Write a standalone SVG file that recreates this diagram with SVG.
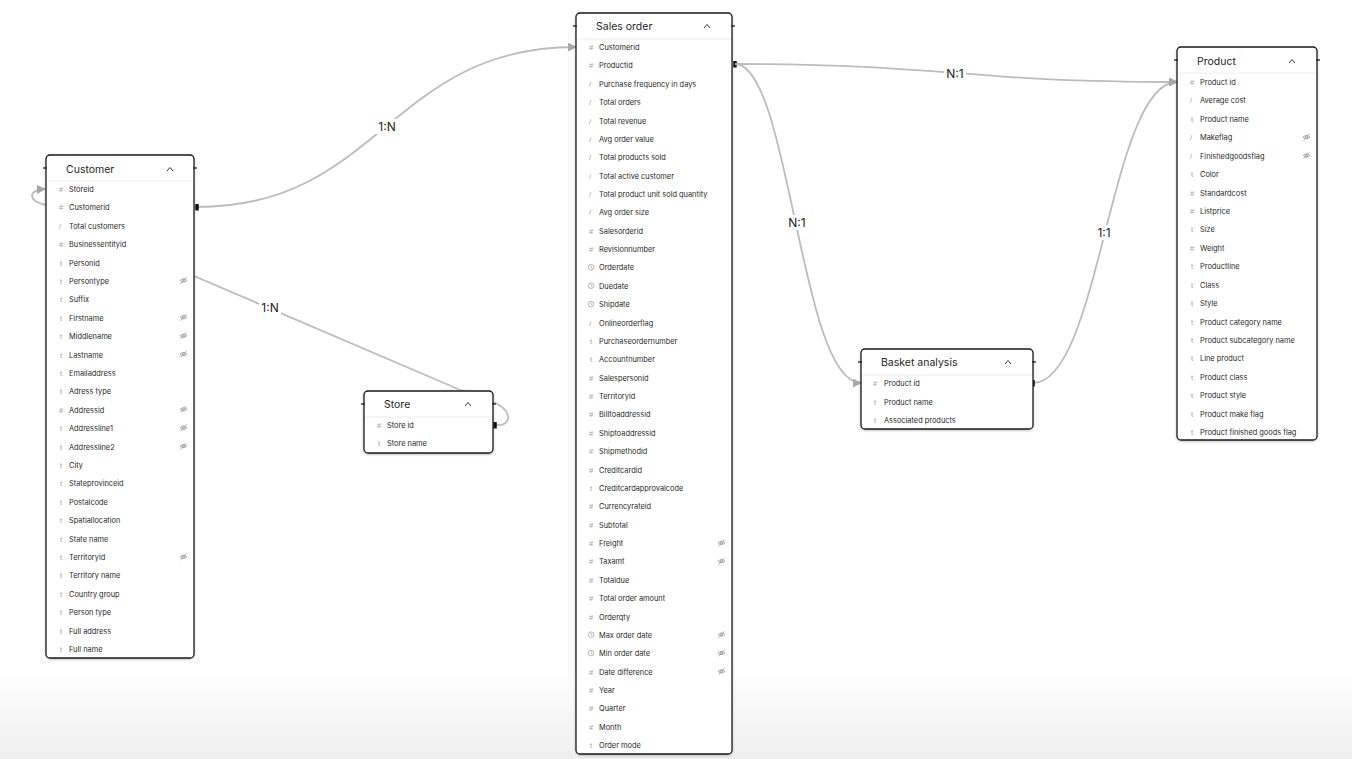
<svg xmlns="http://www.w3.org/2000/svg" xmlns:xlink="http://www.w3.org/1999/xlink" width="1352" height="759" viewBox="0 0 1352 759">
<defs>
<style>
.box{fill:#fff;stroke:#1a1a1a;stroke-width:1.3}
.sep{stroke:#ececec;stroke-width:1}
.title{font-family:Inter,"Liberation Sans",sans-serif;font-size:10.5px;fill:#1f1f1f}
.row{font-family:Inter,"Liberation Sans",sans-serif;font-size:7.4px;fill:#2a2a2a}
.ic{font-family:"Liberation Sans",sans-serif;font-size:7.5px;fill:#a0a0a0}
.chev{fill:none;stroke:#333;stroke-width:1}
.tick{stroke:#111;stroke-width:1.2}
.conn{fill:none;stroke:#bcbcbc;stroke-width:1.8}
.lbl{font-family:Inter,"Liberation Sans",sans-serif;font-size:12px;fill:#222;text-anchor:middle}
.eye{fill:none;stroke:#9a9a9a;stroke-width:0.8}
</style>
<linearGradient id="bg" x1="0" y1="0" x2="0" y2="1">
<stop offset="0" stop-color="#ffffff"/>
<stop offset="0.88" stop-color="#ffffff"/>
<stop offset="1" stop-color="#efefef"/>
</linearGradient>
<filter id="sh" x="-10%" y="-10%" width="120%" height="120%">
<feDropShadow dx="0" dy="1" stdDeviation="1.2" flood-color="#000" flood-opacity="0.25"/>
</filter>
<marker id="arr" viewBox="0 0 10 10" refX="9" refY="5" markerWidth="9" markerHeight="9" markerUnits="userSpaceOnUse" orient="auto">
<path d="M0,0 L10,5 L0,10 z" fill="#a8a8a8"/>
</marker>
<marker id="bar" viewBox="0 0 4 8" refX="2" refY="4" markerWidth="3.5" markerHeight="7" markerUnits="userSpaceOnUse" orient="auto">
<rect x="0" y="0" width="4" height="8" fill="#111"/>
</marker>
<symbol id="eye" viewBox="0 0 8 8" overflow="visible">
<path class="eye" d="M0.5,4 Q4,0.8 7.5,4 Q4,7.2 0.5,4 z"/>
<circle class="eye" cx="4" cy="4" r="1.3"/>
<path class="eye" d="M1,7.4 L7,0.6"/>
</symbol>
<symbol id="clock" viewBox="0 0 8 8" overflow="visible">
<circle cx="4" cy="4" r="3.2" fill="none" stroke="#9a9a9a" stroke-width="0.8"/>
<path d="M4,2.2 L4,4.2 L5.5,5" fill="none" stroke="#9a9a9a" stroke-width="0.8"/>
</symbol>
</defs>
<rect x="0" y="0" width="1352" height="759" fill="url(#bg)"/>

<g id="connectors">
<path class="conn" d="M197,207 C380,207 390,47 576,47" marker-start="url(#bar)" marker-end="url(#arr)"/>
<path class="conn" d="M46,205 C28,201 27,190 45,189" marker-end="url(#arr)"/>
<path class="conn" d="M194,276 L458,389 C482,398 510,404 508,419 C506,426 499,425 495,425" marker-end="url(#bar)"/>
<path class="conn" d="M735,64 C950,64 960,82 1177,82" marker-start="url(#bar)" marker-end="url(#arr)"/>
<path class="conn" d="M735,64 C790,64 800,383 861,383" marker-end="url(#arr)"/>
<path class="conn" d="M1033,383 C1100,383 1110,82 1177,82" marker-start="url(#bar)" marker-end="url(#arr)"/>
<rect x="376" y="119" width="22" height="15" fill="#fff"/>
<text class="lbl" x="387" y="131">1:N</text>
<rect x="259" y="300" width="22" height="15" fill="#fff"/>
<text class="lbl" x="270" y="312">1:N</text>
<rect x="944" y="66" width="22" height="15" fill="#fff"/>
<text class="lbl" x="955" y="78">N:1</text>
<rect x="786" y="215" width="22" height="15" fill="#fff"/>
<text class="lbl" x="797" y="227">N:1</text>
<rect x="1093" y="225" width="22" height="15" fill="#fff"/>
<text class="lbl" x="1104" y="237">1:1</text>
</g>

<g id="customer">
<rect class="box" x="46" y="155" width="148" height="503" rx="4" filter="url(#sh)"/>
<line class="sep" x1="47" y1="181" x2="193" y2="181"/>
<line class="tick" x1="43" y1="168" x2="47" y2="168"/><line class="tick" x1="193" y1="168" x2="197" y2="168"/>
<text class="title" x="66" y="173">Customer</text>
<polyline class="chev" points="167,171 170,167.5 173,171"/>
<g class="ic">
<text x="59" y="192">#</text><text x="59" y="210.4">#</text><text x="59" y="228.8">/</text><text x="59" y="247.2">#</text><text x="60" y="265.6">t</text><text x="60" y="284">t</text><text x="60" y="302.4">t</text><text x="60" y="320.8">t</text><text x="60" y="339.2">t</text><text x="60" y="357.6">t</text><text x="60" y="376">t</text><text x="60" y="394.4">t</text><text x="59" y="412.8">#</text><text x="60" y="431.2">t</text><text x="60" y="449.6">t</text><text x="60" y="468">t</text><text x="60" y="486.4">t</text><text x="60" y="504.8">t</text><text x="60" y="523.2">t</text><text x="60" y="541.6">t</text><text x="60" y="560">t</text><text x="60" y="578.4">t</text><text x="60" y="596.8">t</text><text x="60" y="615.2">t</text><text x="60" y="633.6">t</text><text x="60" y="652">t</text>
</g>
<g class="row">
<text x="69" y="192">Storeid</text><text x="69" y="210.4">Customerid</text><text x="69" y="228.8">Total customers</text><text x="69" y="247.2">Businessentityid</text><text x="69" y="265.6">Personid</text><text x="69" y="284">Persontype</text><text x="69" y="302.4">Suffix</text><text x="69" y="320.8">Firstname</text><text x="69" y="339.2">Middlename</text><text x="69" y="357.6">Lastname</text><text x="69" y="376">Emailaddress</text><text x="69" y="394.4">Adress type</text><text x="69" y="412.8">Addressid</text><text x="69" y="431.2">Addressline1</text><text x="69" y="449.6">Addressline2</text><text x="69" y="468">City</text><text x="69" y="486.4">Stateprovinceid</text><text x="69" y="504.8">Postalcode</text><text x="69" y="523.2">Spatiallocation</text><text x="69" y="541.6">State name</text><text x="69" y="560">Territoryid</text><text x="69" y="578.4">Territory name</text><text x="69" y="596.8">Country group</text><text x="69" y="615.2">Person type</text><text x="69" y="633.6">Full address</text><text x="69" y="652">Full name</text>
</g>
<use href="#eye" x="179.5" y="276.5" width="8" height="8"/>
<use href="#eye" x="179.5" y="313.3" width="8" height="8"/>
<use href="#eye" x="179.5" y="331.7" width="8" height="8"/>
<use href="#eye" x="179.5" y="350.1" width="8" height="8"/>
<use href="#eye" x="179.5" y="405.3" width="8" height="8"/>
<use href="#eye" x="179.5" y="423.7" width="8" height="8"/>
<use href="#eye" x="179.5" y="442.1" width="8" height="8"/>
<use href="#eye" x="179.5" y="552.8" width="8" height="8"/>
</g>

<g id="store">
<rect class="box" x="364" y="391" width="129" height="62" rx="4" filter="url(#sh)"/>
<line class="sep" x1="365" y1="417" x2="492" y2="417"/>
<line class="tick" x1="361" y1="404" x2="365" y2="404"/><line class="tick" x1="492" y1="404" x2="496" y2="404"/>
<text class="title" x="384" y="408">Store</text>
<polyline class="chev" points="465,406 468,402.5 471,406"/>
<text class="ic" x="377" y="428">#</text><text class="ic" x="378" y="446">t</text>
<text class="row" x="387" y="428">Store id</text><text class="row" x="387" y="446">Store name</text>
</g>

<g id="sales-order">
<rect class="box" x="576" y="13" width="156" height="741" rx="4" filter="url(#sh)"/>
<line class="sep" x1="577" y1="39" x2="731" y2="39"/>
<line class="tick" x1="573" y1="26" x2="577" y2="26"/><line class="tick" x1="731" y1="26" x2="735" y2="26"/>
<text class="title" x="596" y="30">Sales order</text>
<polyline class="chev" points="704,28 707,24.5 710,28"/>
<g class="ic">
<text x="589" y="50">#</text><text x="589" y="68.4">#</text><text x="589" y="86.7">/</text><text x="589" y="105.1">/</text><text x="589" y="123.5">/</text><text x="589" y="141.9">/</text><text x="589" y="160.2">/</text><text x="589" y="178.6">/</text><text x="589" y="197">/</text><text x="589" y="215.3">/</text><text x="589" y="233.7">#</text><text x="589" y="252.1">#</text><text x="589" y="325.6">/</text><text x="590" y="343.9">t</text><text x="590" y="362.3">t</text><text x="589" y="380.7">#</text><text x="589" y="399">#</text><text x="589" y="417.4">#</text><text x="589" y="435.8">#</text><text x="589" y="454.1">#</text><text x="589" y="472.5">#</text><text x="590" y="490.9">t</text><text x="589" y="509.3">#</text><text x="589" y="527.6">#</text><text x="589" y="546">#</text><text x="589" y="564.4">#</text><text x="589" y="582.7">#</text><text x="589" y="601.1">#</text><text x="589" y="619.5">#</text><text x="589" y="674.6">#</text><text x="589" y="693">#</text><text x="589" y="711.3">#</text><text x="589" y="729.7">#</text><text x="590" y="748">t</text>
</g>
<use href="#clock" x="587.5" y="263.8" width="7" height="7"/>
<use href="#clock" x="587.5" y="282.2" width="7" height="7"/>
<use href="#clock" x="587.5" y="300.6" width="7" height="7"/>
<use href="#clock" x="587.5" y="631.2" width="7" height="7"/>
<use href="#clock" x="587.5" y="649.6" width="7" height="7"/>
<g class="row">
<text x="599" y="50">Customerid</text><text x="599" y="68.4">Productid</text><text x="599" y="86.7">Purchase frequency in days</text><text x="599" y="105.1">Total orders</text><text x="599" y="123.5">Total revenue</text><text x="599" y="141.9">Avg order value</text><text x="599" y="160.2">Total products sold</text><text x="599" y="178.6">Total active customer</text><text x="599" y="197">Total product unit sold quantity</text><text x="599" y="215.3">Avg order size</text><text x="599" y="233.7">Salesorderid</text><text x="599" y="252.1">Revisionnumber</text><text x="599" y="270.4">Orderdate</text><text x="599" y="288.8">Duedate</text><text x="599" y="307.2">Shipdate</text><text x="599" y="325.6">Onlineorderflag</text><text x="599" y="343.9">Purchaseordernumber</text><text x="599" y="362.3">Accountnumber</text><text x="599" y="380.7">Salespersonid</text><text x="599" y="399">Territoryid</text><text x="599" y="417.4">Billtoaddressid</text><text x="599" y="435.8">Shiptoaddressid</text><text x="599" y="454.1">Shipmethodid</text><text x="599" y="472.5">Creditcardid</text><text x="599" y="490.9">Creditcardapprovalcode</text><text x="599" y="509.3">Currencyrateid</text><text x="599" y="527.6">Subtotal</text><text x="599" y="546">Freight</text><text x="599" y="564.4">Taxamt</text><text x="599" y="582.7">Totaldue</text><text x="599" y="601.1">Total order amount</text><text x="599" y="619.5">Orderqty</text><text x="599" y="637.8">Max order date</text><text x="599" y="656.2">Min order date</text><text x="599" y="674.6">Date difference</text><text x="599" y="693">Year</text><text x="599" y="711.3">Quarter</text><text x="599" y="729.7">Month</text><text x="599" y="748">Order mode</text>
</g>
<use href="#eye" x="717.5" y="538.8" width="8" height="8"/>
<use href="#eye" x="717.5" y="557.2" width="8" height="8"/>
<use href="#eye" x="717.5" y="630.6" width="8" height="8"/>
<use href="#eye" x="717.5" y="649" width="8" height="8"/>
<use href="#eye" x="717.5" y="667.4" width="8" height="8"/>
</g>

<g id="basket-analysis">
<rect class="box" x="861" y="349" width="172" height="80" rx="4" filter="url(#sh)"/>
<line class="sep" x1="862" y1="375" x2="1032" y2="375"/>
<line class="tick" x1="858" y1="362" x2="862" y2="362"/><line class="tick" x1="1032" y1="362" x2="1036" y2="362"/>
<text class="title" x="881" y="366">Basket analysis</text>
<polyline class="chev" points="1005,364 1008,360.5 1011,364"/>
<text class="ic" x="873" y="386">#</text><text class="ic" x="874" y="404.5">t</text><text class="ic" x="874" y="423">t</text>
<text class="row" x="884" y="386">Product id</text><text class="row" x="884" y="404.5">Product name</text><text class="row" x="884" y="423">Associated products</text>
</g>

<g id="product">
<rect class="box" x="1177" y="47" width="140" height="393" rx="4" filter="url(#sh)"/>
<line class="sep" x1="1178" y1="73" x2="1316" y2="73"/>
<line class="tick" x1="1174" y1="60" x2="1178" y2="60"/><line class="tick" x1="1316" y1="60" x2="1320" y2="60"/>
<text class="title" x="1197" y="65">Product</text>
<polyline class="chev" points="1289,63 1292,59.5 1295,63"/>
<g class="ic">
<text x="1190" y="85">#</text><text x="1190" y="103.4">/</text><text x="1191" y="121.8">t</text><text x="1190" y="140.3">/</text><text x="1190" y="158.7">/</text><text x="1191" y="177.1">t</text><text x="1190" y="195.5">#</text><text x="1190" y="213.9">#</text><text x="1191" y="232.4">t</text><text x="1190" y="250.8">#</text><text x="1191" y="269.2">t</text><text x="1191" y="287.6">t</text><text x="1191" y="306">t</text><text x="1191" y="324.5">t</text><text x="1191" y="342.9">t</text><text x="1191" y="361.3">t</text><text x="1191" y="379.7">t</text><text x="1191" y="398.1">t</text><text x="1191" y="416.6">t</text><text x="1191" y="435">t</text>
</g>
<g class="row">
<text x="1200" y="85">Product id</text><text x="1200" y="103.4">Average cost</text><text x="1200" y="121.8">Product name</text><text x="1200" y="140.3">Makeflag</text><text x="1200" y="158.7">Finishedgoodsflag</text><text x="1200" y="177.1">Color</text><text x="1200" y="195.5">Standardcost</text><text x="1200" y="213.9">Listprice</text><text x="1200" y="232.4">Size</text><text x="1200" y="250.8">Weight</text><text x="1200" y="269.2">Productline</text><text x="1200" y="287.6">Class</text><text x="1200" y="306">Style</text><text x="1200" y="324.5">Product category name</text><text x="1200" y="342.9">Product subcategory name</text><text x="1200" y="361.3">Line product</text><text x="1200" y="379.7">Product class</text><text x="1200" y="398.1">Product style</text><text x="1200" y="416.6">Product make flag</text><text x="1200" y="435">Product finished goods flag</text>
</g>
<use href="#eye" x="1302.5" y="133.1" width="8" height="8"/>
<use href="#eye" x="1302.5" y="151.5" width="8" height="8"/>
</g>
</svg>
